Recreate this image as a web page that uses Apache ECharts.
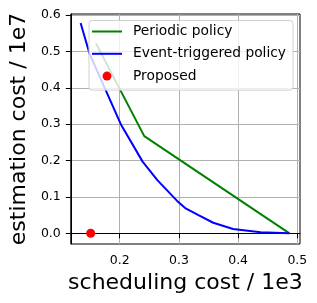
<!DOCTYPE html>
<html><head><meta charset="utf-8">
<script src="https://cdn.jsdelivr.net/npm/echarts@6/dist/echarts.min.js"></script>
<style>html,body{margin:0;padding:0;background:#fff}#c{width:317px;height:303px}</style>
</head><body><div id="c"></div>
<script>
var periodicX = [0.160, 0.2415, 0.4867];
var periodicY = [0.522, 0.267, 0.0];
var eventX = [0.134, 0.149, 0.2026, 0.2387, 0.2636, 0.297, 0.3106, 0.333, 0.358, 0.3915, 0.438, 0.486];
var eventY = [0.578, 0.494, 0.2975, 0.197, 0.146, 0.089, 0.0695, 0.050, 0.029, 0.012, 0.003, 0.0];
var proposedX = [0.151];
var proposedY = [0.0];
var xTicks = [0.2, 0.3, 0.4, 0.5];
var yTicks = [0.0, 0.1, 0.2, 0.3, 0.4, 0.5, 0.6];
var seriesNames = ['Periodic policy', 'Event-triggered policy', 'Proposed'];

function zip(a, b) { return a.map(function (v, i) { return [v, b[i]]; }); }
var F = 'DejaVu Sans';
var lineIcon = 'path://M0,0H60V4H0Z';
var chart = echarts.init(document.getElementById('c'), null, {renderer: 'canvas'});
chart.setOption({
  animation: false,
  grid: {left: 67, right: 17, top: 14, bottom: 59, show: true, borderColor: '#000', borderWidth: 1, backgroundColor: 'transparent'},
  legend: {
    orient: 'vertical', left: 89, top: 20.5,
    padding: [4, 7, 7, 3],
    itemWidth: 30, itemHeight: 9, itemGap: 8.3,
    backgroundColor: 'rgba(255,255,255,0.8)', borderColor: '#d0d0d0', borderWidth: 1, borderRadius: 3,
    textStyle: {fontFamily: F, fontSize: 13.8, color: '#000', padding: [0, 0, 0, 6]},
    data: [{name: seriesNames[0], icon: lineIcon}, {name: seriesNames[1], icon: lineIcon}, {name: seriesNames[2], icon: 'circle'}]
  },
  xAxis: {
    type: 'value', min: 0.1174, max: 0.5045,
    name: 'scheduling cost / 1e3', nameLocation: 'middle', nameGap: 27,
    nameTextStyle: {fontFamily: F, fontSize: 22, color: '#000'},
    axisLine: {show: true, lineStyle: {color: '#000', width: 1}},
    axisTick: {show: true, inside: false, length: 5, customValues: xTicks, lineStyle: {color: '#000', width: 1}},
    axisLabel: {customValues: xTicks, fontFamily: F, fontSize: 12.5, color: '#000', margin: 10,
      formatter: function (v) { return v.toFixed(1); }},
    splitLine: {show: true, lineStyle: {color: '#b0b0b0', width: 1}}
  },
  yAxis: {
    type: 'value', min: -0.0294, max: 0.6027,
    name: 'estimation cost / 1e7', nameLocation: 'middle', nameGap: 40,
    nameTextStyle: {fontFamily: F, fontSize: 22, color: '#000'},
    axisLine: {show: true, lineStyle: {color: '#000', width: 1}},
    axisTick: {show: true, inside: false, length: 5, customValues: yTicks, lineStyle: {color: '#000', width: 1}},
    axisLabel: {customValues: yTicks, fontFamily: F, fontSize: 12.5, color: '#000', margin: 10,
      formatter: function (v) { return v.toFixed(1); }},
    splitLine: {show: true, lineStyle: {color: '#b0b0b0', width: 1}}
  },
  series: [
    {name: seriesNames[0], type: 'line', data: zip(periodicX, periodicY), symbol: 'none',
      lineStyle: {color: '#008000', width: 2}, itemStyle: {color: '#008000'}},
    {name: seriesNames[1], type: 'line', data: zip(eventX, eventY), symbol: 'none',
      lineStyle: {color: '#0000ff', width: 2}, itemStyle: {color: '#0000ff'}},
    {name: seriesNames[2], type: 'scatter', data: zip(proposedX, proposedY), symbol: 'circle', symbolSize: 9,
      itemStyle: {color: '#ff0000', opacity: 1}}
  ]
});
</script></body></html>
